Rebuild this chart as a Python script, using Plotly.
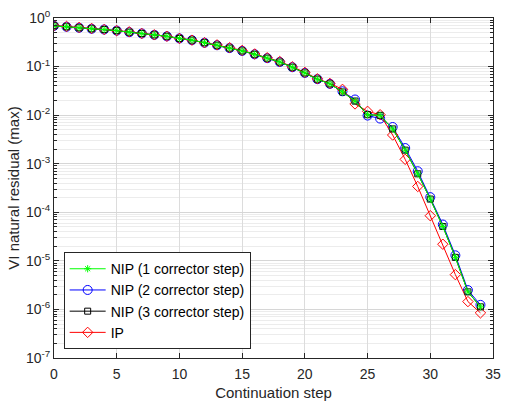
import plotly.graph_objects as go

steps = list(range(35))
nip1 = [0.69, 0.66, 0.63, 0.60, 0.58, 0.55, 0.51, 0.48, 0.45, 0.42, 0.38, 0.35, 0.31, 0.275, 0.24,
        0.21, 0.179, 0.149, 0.124, 0.097, 0.074, 0.055, 0.044, 0.030, 0.0195, 0.0102, 0.0099,
        0.0052, 0.0019, 6.2e-4, 1.87e-4, 5.1e-5, 1.18e-5, 2.3e-6, 1.13e-6]
nip2 = [0.69, 0.66, 0.63, 0.60, 0.58, 0.55, 0.51, 0.48, 0.45, 0.42, 0.38, 0.35, 0.31, 0.275, 0.24,
        0.21, 0.179, 0.149, 0.124, 0.097, 0.074, 0.055, 0.044, 0.031, 0.021, 0.0098, 0.0085,
        0.0057, 0.0021, 7.0e-4, 2.05e-4, 5.6e-5, 1.3e-5, 2.5e-6, 1.24e-6]
nip3 = [0.69, 0.66, 0.63, 0.60, 0.58, 0.55, 0.51, 0.48, 0.45, 0.42, 0.38, 0.35, 0.31, 0.275, 0.24,
        0.21, 0.179, 0.149, 0.124, 0.097, 0.074, 0.055, 0.044, 0.030, 0.0195, 0.0102, 0.0099,
        0.0052, 0.0019, 6.2e-4, 1.87e-4, 5.1e-5, 1.18e-5, 2.3e-6, 1.13e-6]
ip = [0.70, 0.67, 0.64, 0.61, 0.58, 0.55, 0.52, 0.48, 0.45, 0.42, 0.38, 0.35, 0.31, 0.28, 0.245,
      0.215, 0.182, 0.152, 0.127, 0.099, 0.076, 0.056, 0.045, 0.034, 0.017, 0.012, 0.0102,
      0.0039, 0.00123, 3.4e-4, 8.5e-5, 2.2e-5, 5.2e-6, 1.45e-6, 8.5e-7]

names = ["NIP (1 corrector step)", "NIP (2 corrector step)", "NIP (3 corrector step)", "IP"]
exps = list(range(-7, 1))
ytick_vals = [10.0 ** e for e in exps]
ytick_text = ["10<sup>%d</sup>" % e for e in exps]
yminor_vals = [k * 10.0 ** e for e in range(-7, 0) for k in range(2, 10)]

fig = go.Figure()
fig.add_trace(go.Scatter(x=steps, y=nip2, name=names[1], mode="lines+markers", legendrank=2,
                         line=dict(color="#0000ff", width=1),
                         marker=dict(symbol="circle-open", size=9, color="#0000ff", line=dict(width=1))))
fig.add_trace(go.Scatter(x=steps, y=ip, name=names[3], mode="lines+markers", legendrank=4,
                         line=dict(color="#ff0000", width=1),
                         marker=dict(symbol="diamond-open", size=8, color="#ff0000", line=dict(width=1))))
fig.add_trace(go.Scatter(x=steps, y=nip3, name=names[2], mode="lines+markers", legendrank=3,
                         line=dict(color="#000000", width=1),
                         marker=dict(symbol="square-open", size=6, color="#000000", line=dict(width=1))))
fig.add_trace(go.Scatter(x=steps, y=nip1, name=names[0], mode="lines+markers", legendrank=1,
                         line=dict(color="#00ff00", width=1),
                         marker=dict(symbol="asterisk-open", size=6, color="#00ff00", line=dict(width=1, color="#00ff00"))))

fam = "Liberation Sans, Arial, sans-serif"
tick_font = dict(family=fam, size=14, color="#262626")
title_font = dict(family=fam, size=15, color="#262626")
fig.update_layout(
    width=509, height=406,
    margin=dict(l=54, r=9, t=8, b=48),
    paper_bgcolor="white", plot_bgcolor="white",
    font=tick_font,
    showlegend=True,
    legend=dict(x=0.022, y=0.026, xanchor="left", yanchor="bottom",
                bgcolor="white", bordercolor="#262626", borderwidth=1,
                font=dict(family=fam, size=14, color="#000000"),
                itemwidth=36, tracegroupgap=0, traceorder="normal"),
)
fig.update_xaxes(range=[0, 35], dtick=5, tick0=0, ticks="inside", ticklen=5, mirror="ticks",
                 showline=True, linecolor="#262626", linewidth=1, tickcolor="#262626",
                 showgrid=True, gridcolor="#dcdcdc", zeroline=False, tickfont=tick_font,
                 ticklabelstandoff=3, ticklabeloverflow="allow",
                 title=dict(text="Continuation step", standoff=6, font=title_font))
fig.update_yaxes(type="log", range=[-7, 0], tickvals=ytick_vals, ticktext=ytick_text,
                 ticks="inside", ticklen=5, mirror="ticks", ticklabeloverflow="allow",
                 showline=True, linecolor="#262626", linewidth=1, tickcolor="#262626",
                 showgrid=True, gridcolor="#d6d6d6", zeroline=False, tickfont=tick_font,
                 minor=dict(tickvals=yminor_vals, ticks="inside", ticklen=3, tickcolor="#262626",
                            showgrid=True, gridcolor="#ececec"),
                 title=dict(text="VI natural residual (max)", standoff=2, font=title_font))

fig.write_html("out.html")
